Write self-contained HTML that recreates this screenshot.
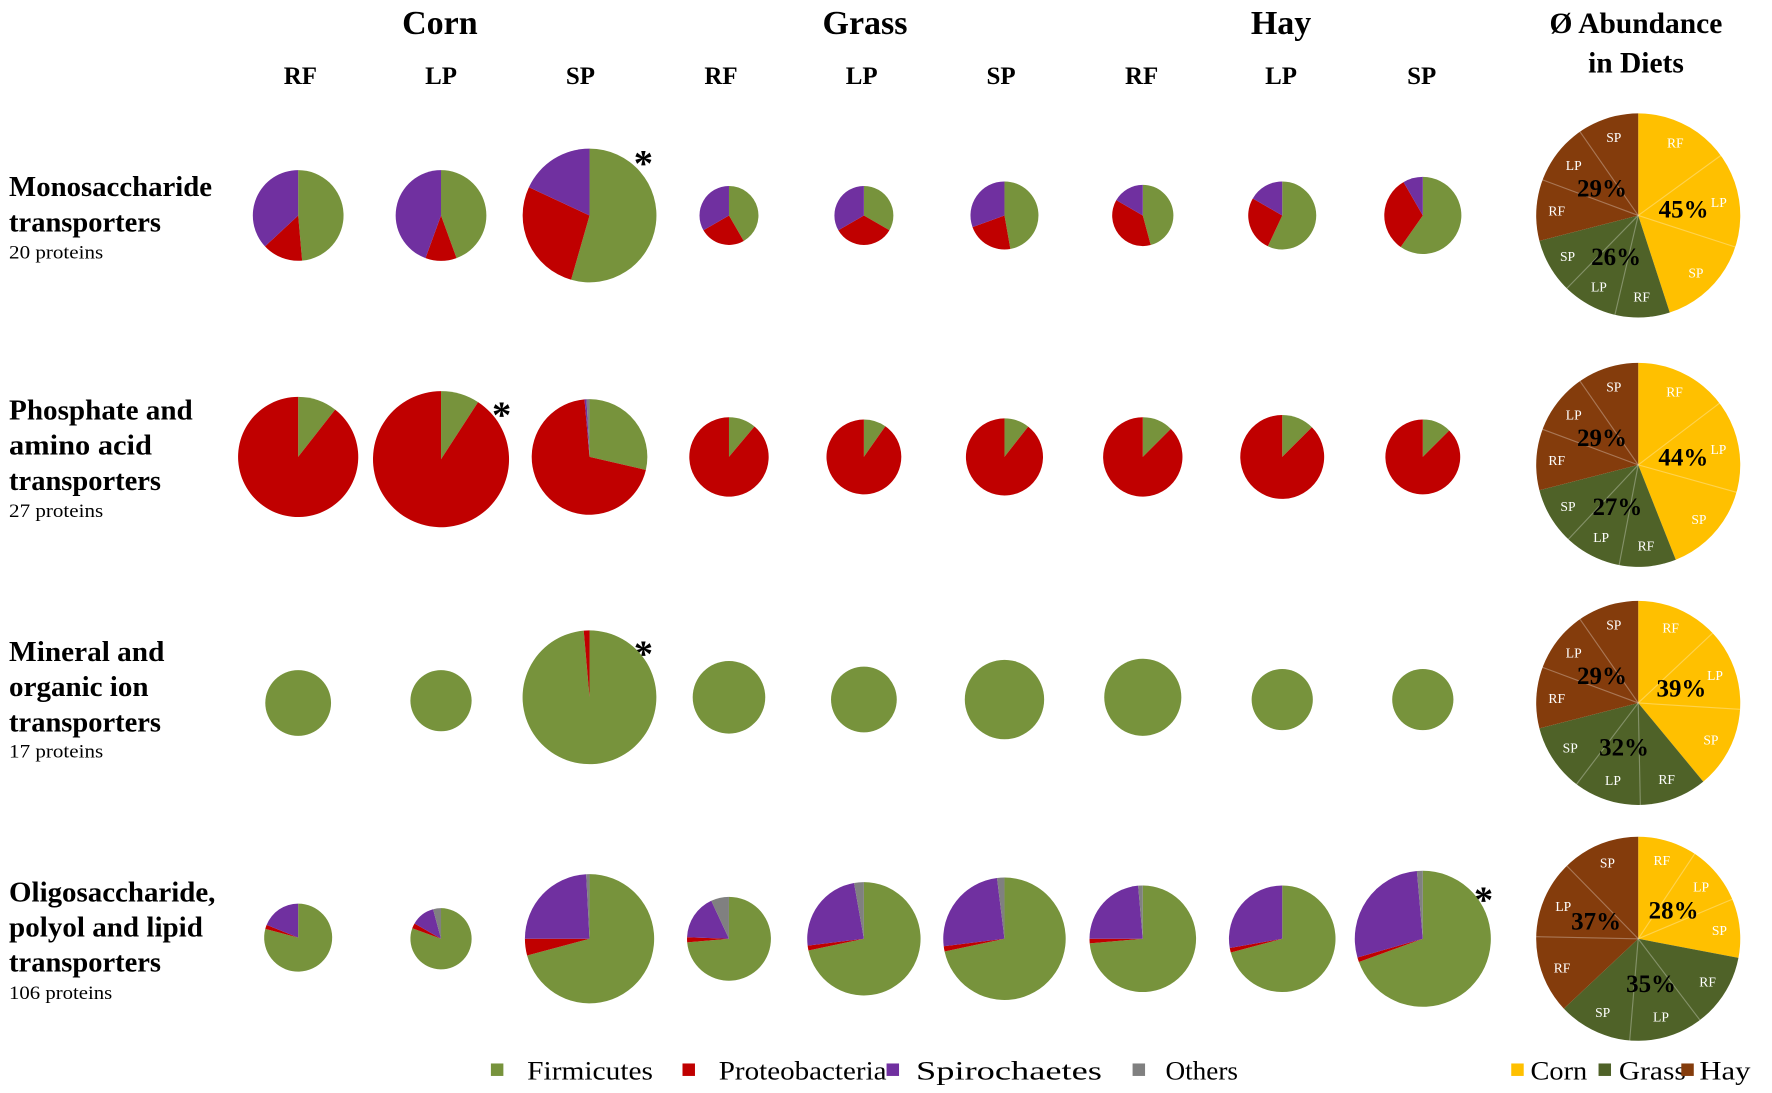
<!DOCTYPE html>
<html><head><meta charset="utf-8"><style>
html,body{margin:0;padding:0;background:#fff;}
svg{display:block;}
text{font-family:"Liberation Serif",serif;}
</style></head><body>
<svg id="s" width="1772" height="1093" viewBox="0 0 1563 964" xmlns="http://www.w3.org/2000/svg">
<g font-weight="bold" fill="#000" text-anchor="middle">
<text x="388" y="30" font-size="30">Corn</text>
<text x="763" y="30" font-size="30">Grass</text>
<text x="1130" y="30" font-size="30">Hay</text>
<text x="1443" y="29" font-size="26">Ø Abundance</text>
<text x="1443" y="64" font-size="26">in Diets</text>
<g font-size="22">
<text x="265" y="74">RF</text><text x="389" y="74">LP</text><text x="512" y="74">SP</text>
<text x="636" y="74">RF</text><text x="760" y="74">LP</text><text x="883" y="74">SP</text>
<text x="1007" y="74">RF</text><text x="1130" y="74">LP</text><text x="1254" y="74">SP</text>
</g></g>
<g font-size="25" font-weight="bold">
<text x="8" y="173" textLength="179" lengthAdjust="spacingAndGlyphs">Monosaccharide</text><text x="8" y="204" textLength="134" lengthAdjust="spacingAndGlyphs">transporters</text>
<text x="8" y="370" textLength="162" lengthAdjust="spacingAndGlyphs">Phosphate and</text><text x="8" y="401" textLength="126" lengthAdjust="spacingAndGlyphs">amino acid</text><text x="8" y="432" textLength="134" lengthAdjust="spacingAndGlyphs">transporters</text>
<text x="8" y="583" textLength="137" lengthAdjust="spacingAndGlyphs">Mineral and</text><text x="8" y="614" textLength="123" lengthAdjust="spacingAndGlyphs">organic ion</text><text x="8" y="645" textLength="134" lengthAdjust="spacingAndGlyphs">transporters</text>
<text x="8" y="795" textLength="182" lengthAdjust="spacingAndGlyphs">Oligosaccharide,</text><text x="8" y="826" textLength="171" lengthAdjust="spacingAndGlyphs">polyol and lipid</text><text x="8" y="857" textLength="134" lengthAdjust="spacingAndGlyphs">transporters</text>
</g>
<g font-size="17">
<text x="8" y="228" textLength="83" lengthAdjust="spacingAndGlyphs">20 proteins</text><text x="8" y="456" textLength="83" lengthAdjust="spacingAndGlyphs">27 proteins</text>
<text x="8" y="668" textLength="83" lengthAdjust="spacingAndGlyphs">17 proteins</text><text x="8" y="881" textLength="91" lengthAdjust="spacingAndGlyphs">106 proteins</text>
</g>
<g font-size="34" font-weight="bold">
<text x="559" y="155">*</text><text x="434" y="377">*</text>
<text x="559" y="588">*</text><text x="1300" y="805">*</text>
</g>
<g id="pies"></g>
<g font-size="23">
<rect x="433" y="938" width="11" height="11" fill="#77933C"/><text x="465" y="952" textLength="111" lengthAdjust="spacingAndGlyphs">Firmicutes</text>
<rect x="602" y="938" width="11" height="11" fill="#C00000"/><text x="634" y="952" textLength="148" lengthAdjust="spacingAndGlyphs">Proteobacteria</text>
<rect x="782" y="938" width="11" height="11" fill="#7030A0"/><text x="808" y="952" textLength="164" lengthAdjust="spacingAndGlyphs">Spirochaetes</text>
<rect x="999" y="938" width="11" height="11" fill="#808080"/><text x="1028" y="952" textLength="64" lengthAdjust="spacingAndGlyphs">Others</text>
<rect x="1333" y="938" width="11" height="11" fill="#FFC000"/><text x="1350" y="952" textLength="50" lengthAdjust="spacingAndGlyphs">Corn</text>
<rect x="1410" y="938" width="11" height="11" fill="#4F6228"/><text x="1428" y="952" textLength="59" lengthAdjust="spacingAndGlyphs">Grass</text>
<rect x="1483" y="938" width="11" height="11" fill="#843C0C"/><text x="1499" y="952" textLength="45" lengthAdjust="spacingAndGlyphs">Hay</text>
</g>
</svg>
<script>
var G="#77933C",R="#C00000",P="#7030A0",O="#808080";
var pies=[
[263,190,40,[[175,G],[227,R],[360,P]]],
[389,190,40,[[160,G],[200,R],[360,P]]],
[520,190,59,[[196,G],[295,R],[360,P]]],
[643,190,26,[[150,G],[240,R],[360,P]]],
[762,190,26,[[120,G],[240,R],[360,P]]],
[886,190,30,[[170,G],[250,R],[360,P]]],
[1008,190,27,[[165,G],[300,R],[360,P]]],
[1131,190,30,[[205,G],[300,R],[360,P]]],
[1255,190,34,[[215,G],[330,R],[360,P]]],
[263,403,53,[[38,G],[360,R]]],
[389,405,60,[[33,G],[360,R]]],
[520,403,51,[[103,G],[355,R],[357,P],[360,O]]],
[643,403,35,[[40,G],[360,R]]],
[762,403,33,[[35,G],[360,R]]],
[886,403,34,[[38,G],[360,R]]],
[1008,403,35,[[45,G],[360,R]]],
[1131,403,37,[[45,G],[360,R]]],
[1255,403,33,[[45,G],[360,R]]],
[263,620,29,[[360,G]]],[389,618,27,[[360,G]]],
[520,615,59,[[355,G],[360,R]]],
[643,615,32,[[360,G]]],[762,617,29,[[360,G]]],[886,617,35,[[360,G]]],
[1008,615,34,[[360,G]]],[1131,617,27,[[360,G]]],[1255,617,27,[[360,G]]],
[263,827,30,[[285,G],[292,R],[360,P]]],
[389,828,27,[[290,G],[300,R],[345,P],[360,O]]],
[520,828,57,[[255,G],[270,R],[357,P],[360,O]]],
[643,828,37,[[265,G],[272,R],[335,P],[360,O]]],
[762,828,50,[[258,G],[263,R],[350,P],[360,O]]],
[886,828,54,[[258,G],[263,R],[353,P],[360,O]]],
[1008,828,47,[[265,G],[270,R],[355,P],[360,O]]],
[1131,828,47,[[255,G],[260,R],[360,P]]],
[1255,828,60,[[250,G],[254,R],[355,P],[360,O]]]
];
var h="";
function pt(cx,cy,r,a){var t=a*Math.PI/180;return [cx+r*Math.sin(t),cy-r*Math.cos(t)];}
function slice(cx,cy,r,a0,a1,c){
 if(a1-a0>=359.99)return '<circle cx="'+cx+'" cy="'+cy+'" r="'+r+'" fill="'+c+'"/>';
 var p0=pt(cx,cy,r,a0),p1=pt(cx,cy,r,a1);
 return '<path d="M'+cx+','+cy+'L'+p0[0].toFixed(2)+','+p0[1].toFixed(2)+'A'+r+','+r+' 0 '+(a1-a0>180?1:0)+' 1 '+p1[0].toFixed(2)+','+p1[1].toFixed(2)+'Z" fill="'+c+'"/>';
}
pies.forEach(function(p){var a=0;p[3].forEach(function(s){h+=slice(p[0],p[1],p[2],a,s[0],s[1]);a=s[0];});});
var big=[[190,45,26],[410,44,27],[620,39,32],[828,28,35]];
var cols=["#FFC000","#4F6228","#843C0C"];
big.forEach(function(b){
 var cx=1445,cy=b[0],r=90;var pc=[b[1],b[2],100-b[1]-b[2]];var a=0;
 for(var i=0;i<3;i++){
  var a1=a+pc[i]*3.6;
  h+=slice(cx,cy,r,a,a1,cols[i]);
  var w=(a1-a)/3;
  var lbl=["RF","LP","SP"];
  for(var k=0;k<3;k++){
   var s0=a+w*k;
   if(k>0){var q=pt(cx,cy,r,s0);h+='<line x1="'+cx+'" y1="'+cy+'" x2="'+q[0]+'" y2="'+q[1]+'" stroke="rgba(255,255,255,0.3)" stroke-width="1"/>';}
   var m=pt(cx,cy,r*0.8,s0+w/2);
   h+='<text x="'+m[0]+'" y="'+(m[1]+4)+'" font-size="12" fill="#fff" text-anchor="middle">'+lbl[k]+'</text>';
  }
  var mm=pt(cx,cy,r*0.45,(a+a1)/2);
  h+='<text x="'+mm[0]+'" y="'+(mm[1]+8)+'" font-size="22" font-weight="bold" text-anchor="middle">'+pc[i]+'%</text>';
  a=a1;
 }
});
document.getElementById("pies").innerHTML=h;
</script>
</body></html>
